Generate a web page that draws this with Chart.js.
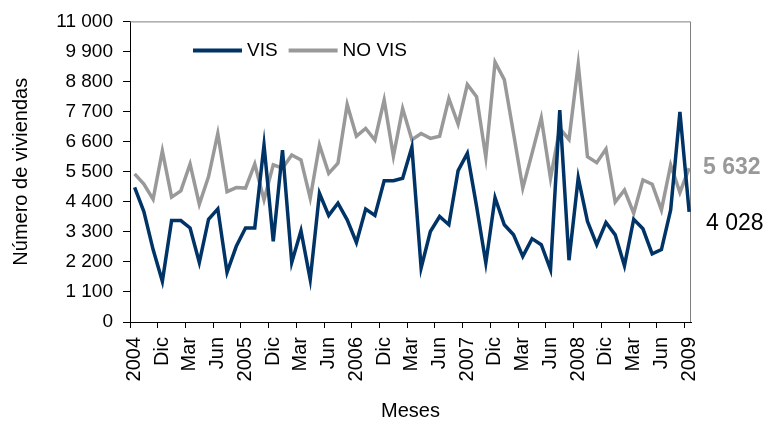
<!DOCTYPE html>
<html>
<head>
<meta charset="utf-8">
<script src="https://cdn.jsdelivr.net/npm/chart.js@4.4.1/dist/chart.umd.min.js"></script>
<style>
  html, body { margin: 0; padding: 0; background: #fff; }
  #wrap { width: 768px; height: 423px; }
</style>
</head>
<body>
<div id="wrap"><canvas id="viviendasChart" width="768" height="423"></canvas></div>
<script>
// etiquetas del eje X (una cada 3 meses, sep 2004 - sep 2009)
const tickLabels = ["2004", "Dic", "Mar", "Jun", "2005", "Dic", "Mar", "Jun", "2006", "Dic", "Mar", "Jun",
  "2007", "Dic", "Mar", "Jun", "2008", "Dic", "Mar", "Jun", "2009"];

// viviendas de interés social, mensual
const vis = [4930, 4040, 2650, 1490, 3710, 3710, 3440, 2180, 3760, 4140, 1820, 2770, 3440, 3440, 6480,
  2950, 6290, 2180, 3340, 1550, 4710, 3900, 4350, 3740, 2910, 4130, 3900, 5170, 5170, 5260,
  6400, 1980, 3310, 3860, 3560, 5540, 6170, 4230, 2160, 4550, 3560, 3190, 2400, 3050, 2830,
  1920, 7750, 2260, 5280, 3680, 2830, 3640, 3190, 2060, 3760, 3410, 2490, 2650, 4100, 7690, 4028];

// viviendas no VIS, mensual
const noVis = [5420, 5050, 4490, 6260, 4570, 4800, 5780, 4310, 5320, 6900, 4770, 4920, 4900, 5780, 4470,
  5750, 5630, 6110, 5930, 4530, 6480, 5440, 5810, 7960, 6800, 7080, 6660, 8120, 6070, 7810,
  6670, 6900, 6720, 6800, 8180, 7240, 8690, 8240, 6030, 9510, 8870, 6900, 4900, 6170, 7470,
  5260, 7080, 6680, 9430, 6050, 5830, 6330, 4390, 4830, 3980, 5200, 5040, 4100, 5750, 4740, 5632];

const yTicks = [0, 1100, 2200, 3300, 4400, 5500, 6600, 7700, 8800, 9900, 11000];

const fmt = v => String(v).replace(/\B(?=(\d{3})+(?!\d))/g, " ");
const toPoints = arr => arr.map((v, i) => ({ x: i, y: v }));

Chart.defaults.font.family = "'Liberation Sans', Arial, sans-serif";
Chart.defaults.font.size = 19;
Chart.defaults.color = "#000";

// marco gris arriba y a la derecha del área de trazado
const frame = {
  id: "frame",
  beforeDatasetsDraw(chart) {
    const { ctx, chartArea: a } = chart;
    ctx.save();
    ctx.strokeStyle = "#7f7f7f";
    ctx.lineWidth = 1;
    ctx.beginPath();
    ctx.moveTo(a.left, a.top + 0.5);
    ctx.lineTo(a.right - 0.5, a.top + 0.5);
    ctx.lineTo(a.right - 0.5, a.bottom);
    ctx.stroke();
    ctx.restore();
  }
};

// leyenda dentro del gráfico + valores del último mes a la derecha
const extras = {
  id: "extras",
  afterDraw(chart) {
    const { ctx, chartArea: a, scales } = chart;
    ctx.save();
    ctx.font = "19px 'Liberation Sans', Arial, sans-serif";
    ctx.textBaseline = "middle";
    let x = a.left + 63;
    const y = a.top + 29;
    chart.data.datasets.forEach(ds => {
      ctx.strokeStyle = ds.borderColor;
      ctx.lineWidth = 4;
      ctx.beginPath();
      ctx.moveTo(x, y);
      ctx.lineTo(x + 49, y);
      ctx.stroke();
      ctx.fillStyle = "#000";
      ctx.fillText(ds.label, x + 54, y);
      x += 54 + ctx.measureText(ds.label).width + 11;
    });

    const lastNo = noVis[noVis.length - 1];
    const lastVis = vis[vis.length - 1];
    ctx.font = "bold 23px 'Liberation Sans', Arial, sans-serif";
    ctx.fillStyle = "#999999";
    ctx.fillText(fmt(lastNo), a.right + 12, scales.y.getPixelForValue(lastNo));
    ctx.font = "23px 'Liberation Sans', Arial, sans-serif";
    ctx.fillStyle = "#000";
    ctx.fillText(fmt(lastVis), a.right + 15, scales.y.getPixelForValue(lastVis) + 12);
    ctx.restore();
  }
};

new Chart(document.getElementById("viviendasChart"), {
  type: "line",
  data: {
    datasets: [
      {
        label: "VIS",
        data: toPoints(vis),
        borderColor: "#003366",
        borderWidth: 3.5,
        pointRadius: 0,
        tension: 0
      },
      {
        label: "NO VIS",
        data: toPoints(noVis),
        borderColor: "#999999",
        borderWidth: 3.5,
        pointRadius: 0,
        tension: 0
      }
    ]
  },
  options: {
    responsive: false,
    animation: false,
    devicePixelRatio: 1,
    layout: { padding: { top: 20, right: 77, left: 0, bottom: 0 } },
    plugins: {
      legend: { display: false },
      tooltip: { enabled: false }
    },
    scales: {
      x: {
        type: "linear",
        min: -0.5,
        max: 60.2,
        afterFit(scale) { scale.height = 101; },
        afterBuildTicks(scale) {
          scale.ticks = tickLabels.map((t, k) => ({ value: 3 * k - 0.5 }));
        },
        ticks: {
          autoSkip: false,
          maxRotation: 90,
          minRotation: 90,
          padding: 9,
          labelOffset: 4.5,
          font: { size: 20 },
          callback: (v, i) => tickLabels[i]
        },
        grid: { drawOnChartArea: false, color: "#000", tickLength: 6 },
        border: { color: "#000", width: 1 },
        title: { display: true, text: "Meses", font: { size: 20 }, padding: { top: 0, bottom: 0 } }
      },
      y: {
        min: 0,
        max: 11000,
        afterFit(scale) { scale.width = 130; },
        afterBuildTicks(scale) {
          scale.ticks = yTicks.map(v => ({ value: v }));
        },
        ticks: { padding: 10, callback: v => fmt(v) },
        grid: { drawOnChartArea: false, color: "#000", tickLength: 7 },
        border: { color: "#000", width: 1 },
        title: { display: true, text: "Número de viviendas", font: { size: 20 }, padding: { top: 9, bottom: 0 } }
      }
    }
  },
  plugins: [frame, extras]
});
</script>
</body>
</html>
